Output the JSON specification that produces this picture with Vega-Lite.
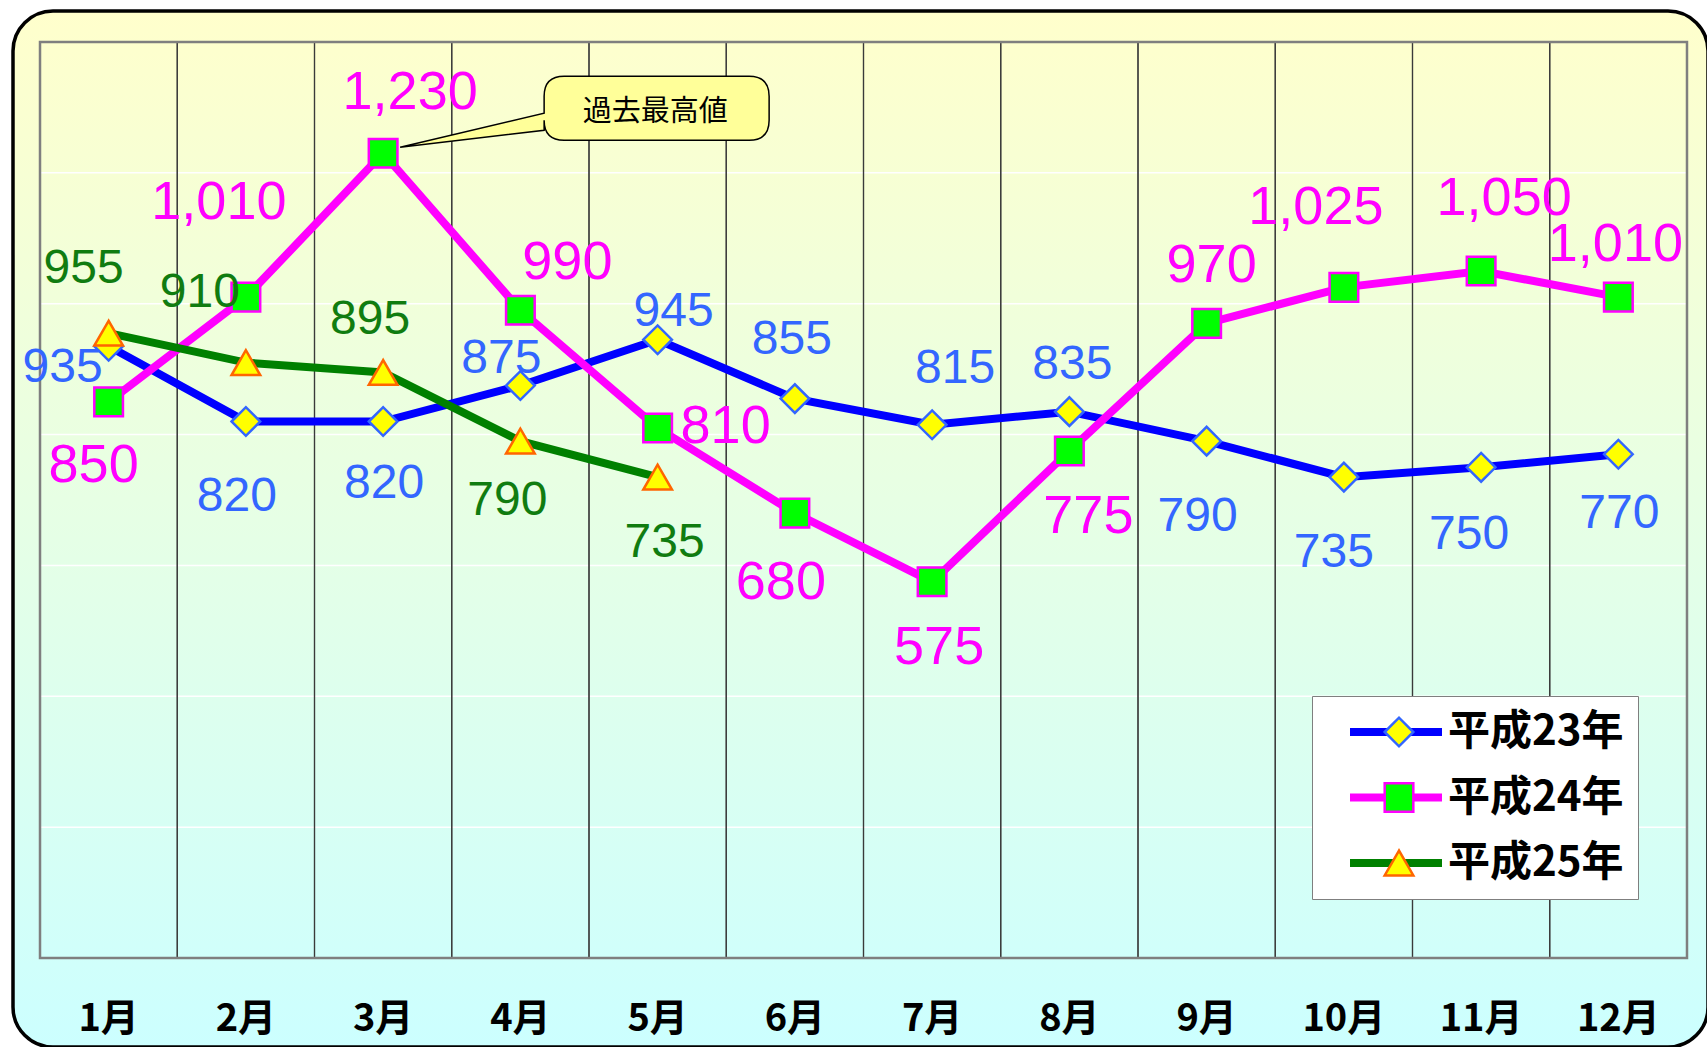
{
  "$schema": "https://vega.github.io/schema/vega-lite/v6.json",
  "width": 1695,
  "height": 1036,
  "autosize": "none",
  "padding": {"left": 13, "top": 11, "right": 0, "bottom": 0},
  "background": "#FFFFFF",
  "config": {"view": {"stroke": null}},
  "datasets": {
    "sales": [
      {"series": "平成23年", "month": "1月", "value": 935},
      {"series": "平成23年", "month": "2月", "value": 820},
      {"series": "平成23年", "month": "3月", "value": 820},
      {"series": "平成23年", "month": "4月", "value": 875},
      {"series": "平成23年", "month": "5月", "value": 945},
      {"series": "平成23年", "month": "6月", "value": 855},
      {"series": "平成23年", "month": "7月", "value": 815},
      {"series": "平成23年", "month": "8月", "value": 835},
      {"series": "平成23年", "month": "9月", "value": 790},
      {"series": "平成23年", "month": "10月", "value": 735},
      {"series": "平成23年", "month": "11月", "value": 750},
      {"series": "平成23年", "month": "12月", "value": 770},
      {"series": "平成24年", "month": "1月", "value": 850},
      {"series": "平成24年", "month": "2月", "value": 1010},
      {"series": "平成24年", "month": "3月", "value": 1230},
      {"series": "平成24年", "month": "4月", "value": 990},
      {"series": "平成24年", "month": "5月", "value": 810},
      {"series": "平成24年", "month": "6月", "value": 680},
      {"series": "平成24年", "month": "7月", "value": 575},
      {"series": "平成24年", "month": "8月", "value": 775},
      {"series": "平成24年", "month": "9月", "value": 970},
      {"series": "平成24年", "month": "10月", "value": 1025},
      {"series": "平成24年", "month": "11月", "value": 1050},
      {"series": "平成24年", "month": "12月", "value": 1010},
      {"series": "平成25年", "month": "1月", "value": 955},
      {"series": "平成25年", "month": "2月", "value": 910},
      {"series": "平成25年", "month": "3月", "value": 895},
      {"series": "平成25年", "month": "4月", "value": 790},
      {"series": "平成25年", "month": "5月", "value": 735}
    ]
  },
  "data": {"name": "sales"},
  "layer": [
    {
      "data": {"values": [{}]},
      "mark": {
        "type": "rect",
        "fill": {"gradient": "linear", "x1": 0, "y1": 0, "x2": 0, "y2": 1,
                 "stops": [{"offset": 0, "color": "#FFFFCC"}, {"offset": 1, "color": "#CCFFFF"}]},
        "stroke": "#000000", "strokeWidth": 3.5, "cornerRadius": 40
      },
      "encoding": {}
    },
    {
      "transform": [{"filter": "datum.series === '平成23年'"}],
      "mark": {"type": "rect", "filled": false, "stroke": "#FFFFFF", "strokeWidth": 1.5},
      "encoding": {
        "x": {"field": "month", "type": "ordinal", "scale": {"type": "band", "domain": ["1月","2月","3月","4月","5月","6月","7月","8月","9月","10月","11月","12月"], "paddingInner": 0, "paddingOuter": 0.1749, "align": 0.5625}, "axis": null},
        "y": {"datum": 200, "type": "quantitative", "scale": {"domain": [-136, 1447.4], "nice": false, "zero": false}, "axis": null},
        "y2": {"datum": 200}
      }
    },
    {
      "transform": [{"filter": "datum.series === '平成23年'"}],
      "mark": {"type": "rect", "filled": false, "stroke": "#FFFFFF", "strokeWidth": 1.5},
      "encoding": {
        "x": {"field": "month", "type": "ordinal", "axis": null},
        "y": {"datum": 400, "type": "quantitative", "axis": null},
        "y2": {"datum": 400}
      }
    },
    {
      "transform": [{"filter": "datum.series === '平成23年'"}],
      "mark": {"type": "rect", "filled": false, "stroke": "#FFFFFF", "strokeWidth": 1.5},
      "encoding": {
        "x": {"field": "month", "type": "ordinal", "axis": null},
        "y": {"datum": 600, "type": "quantitative", "axis": null},
        "y2": {"datum": 600}
      }
    },
    {
      "transform": [{"filter": "datum.series === '平成23年'"}],
      "mark": {"type": "rect", "filled": false, "stroke": "#FFFFFF", "strokeWidth": 1.5},
      "encoding": {
        "x": {"field": "month", "type": "ordinal", "axis": null},
        "y": {"datum": 800, "type": "quantitative", "axis": null},
        "y2": {"datum": 800}
      }
    },
    {
      "transform": [{"filter": "datum.series === '平成23年'"}],
      "mark": {"type": "rect", "filled": false, "stroke": "#FFFFFF", "strokeWidth": 1.5},
      "encoding": {
        "x": {"field": "month", "type": "ordinal", "axis": null},
        "y": {"datum": 1000, "type": "quantitative", "axis": null},
        "y2": {"datum": 1000}
      }
    },
    {
      "transform": [{"filter": "datum.series === '平成23年'"}],
      "mark": {"type": "rect", "filled": false, "stroke": "#FFFFFF", "strokeWidth": 1.5},
      "encoding": {
        "x": {"field": "month", "type": "ordinal", "axis": null},
        "y": {"datum": 1200, "type": "quantitative", "axis": null},
        "y2": {"datum": 1200}
      }
    },
    {
      "transform": [{"filter": "datum.series === '平成23年'"}],
      "mark": {"type": "rect", "filled": false, "stroke": "#3A3A3A", "strokeWidth": 1.2},
      "encoding": {
        "x": {"field": "month", "type": "ordinal", "axis": null},
        "y": {"datum": 0, "type": "quantitative", "axis": null},
        "y2": {"datum": 1400}
      }
    },
    {
      "data": {"values": [{}]},
      "mark": {"type": "rect", "filled": false, "stroke": "#7F7F7F", "strokeWidth": 2.5},
      "encoding": {
        "x": {"datum": "1月", "type": "ordinal", "bandPosition": 0, "axis": null},
        "x2": {"datum": "12月", "bandPosition": 1},
        "y": {"datum": 0, "type": "quantitative", "axis": null},
        "y2": {"datum": 1400}
      }
    },
    {
      "transform": [{"filter": "datum.series === '平成23年'"}],
      "mark": {"type": "text", "font": "Noto Sans CJK JP", "fontSize": 38, "fontWeight": "bold", "fill": "#000000", "baseline": "middle", "align": "center"},
      "encoding": {
        "x": {"field": "month", "type": "ordinal", "bandPosition": 0.5, "axis": null},
        "y": {"datum": -94, "type": "quantitative", "axis": null},
        "text": {"field": "month", "type": "nominal"}
      }
    },
    {
      "mark": {"type": "line", "strokeWidth": 8},
      "encoding": {
        "x": {"field": "month", "type": "ordinal", "bandPosition": 0.5, "axis": null},
        "y": {"field": "value", "type": "quantitative", "axis": null},
        "color": {
          "field": "series", "type": "nominal",
          "scale": {"range": ["#0000FF", "#FF00FF", "#008000"]},
          "legend": {
            "orient": "none", "legendX": 1299, "legendY": 685, "title": null,
            "padding": 14, "clipHeight": 44, "rowPadding": 21.5,
            "symbolType": "stroke", "symbolSize": 8464, "symbolStrokeWidth": 8, "symbolOffset": 20,
            "labelOffset": 2, "labelLimit": 400, "labelExpr": "datum.label + '       '",
            "labelFont": "Noto Sans CJK JP", "labelFontSize": 42, "labelFontWeight": "bold", "labelColor": "#000000",
            "fillColor": "#FFFFFF", "strokeColor": "#7F7F7F"
          }
        }
      }
    },
    {
      "transform": [{"filter": "datum.series === '平成24年' && datum.month === '3月'"}],
      "mark": {
        "type": "point", "filled": true, "opacity": 1, "size": 40000,
        "shape": "M0.17,-0.06L1.61,-0.40L1.61,-0.57Q1.61,-0.77 1.81,-0.77L3.66,-0.77Q3.86,-0.77 3.86,-0.57L3.86,-0.33Q3.86,-0.13 3.66,-0.13L1.81,-0.13Q1.61,-0.13 1.61,-0.33L1.61,-0.23Z",
        "fill": "#FFFF99", "stroke": "#000000", "strokeWidth": 1.5
      },
      "encoding": {
        "x": {"field": "month", "type": "ordinal", "bandPosition": 0.5, "axis": null},
        "y": {"field": "value", "type": "quantitative", "axis": null}
      }
    },
    {
      "mark": {"type": "point", "filled": true, "opacity": 1, "size": 820, "strokeWidth": 2.5},
      "encoding": {
        "x": {"field": "month", "type": "ordinal", "bandPosition": 0.5, "axis": null},
        "y": {"field": "value", "type": "quantitative", "axis": null},
        "shape": {
          "field": "series", "type": "nominal",
          "scale": {"domain": ["平成23年", "平成24年", "平成25年"], "range": ["diamond", "square", "triangle-up"]},
          "legend": {
            "orient": "none", "legendX": 1331, "legendY": 685, "title": null,
            "padding": 14, "clipHeight": 44, "rowPadding": 21.5, "symbolOffset": 20,
            "symbolSize": 820, "symbolStrokeWidth": 2.5, "symbolOpacity": 1,
            "labelExpr": "''", "labelFontSize": 42, "labelOffset": 11
          }
        },
        "fill": {"field": "series", "type": "nominal", "scale": {"domain": ["平成23年", "平成24年", "平成25年"], "range": ["#FFFF00", "#00FF00", "#FFFF00"]}},
        "stroke": {"field": "series", "type": "nominal", "scale": {"domain": ["平成23年", "平成24年", "平成25年"], "range": ["#3366FF", "#FF00FF", "#FF6600"]}}
      }
    },
    {
      "mark": {
        "type": "text", "font": "Liberation Sans", "baseline": "middle", "align": "center",
        "fontSize": {"expr": "datum.series === '平成24年' ? 54 : 48"},
        "fill": {"expr": "datum.series === '平成23年' ? '#3366FF' : datum.series === '平成24年' ? '#FF00FF' : '#107C10'"},
        "dx": {"expr": "[-46,-9,1,-19,16,-3,23,3,-9,-10,-12,1,-15,-27,27,47,68,-14,7,19,5,-28,23,-3,-25,-46,-13,-13,7][(datum.series === '平成23年' ? 0 : datum.series === '平成24年' ? 12 : 24) + indexof(['1月','2月','3月','4月','5月','6月','7月','8月','9月','10月','11月','12月'], datum.month)]"},
        "dy": {"expr": "[22,75,62,-27,-28,-59,-56,-47,76,76,68,60,64,-94,-60,-47,-1,70,66,66,-57,-79,-72,-52,-64,-70,-52,60,66][(datum.series === '平成23年' ? 0 : datum.series === '平成24年' ? 12 : 24) + indexof(['1月','2月','3月','4月','5月','6月','7月','8月','9月','10月','11月','12月'], datum.month)]"}
      },
      "encoding": {
        "x": {"field": "month", "type": "ordinal", "bandPosition": 0.5, "axis": null},
        "y": {"field": "value", "type": "quantitative", "axis": null},
        "text": {"field": "value", "type": "quantitative", "format": ","}
      }
    },
    {
      "transform": [{"filter": "datum.series === '平成24年' && datum.month === '3月'"}],
      "mark": {"type": "text", "text": "過去最高値", "dx": 272, "dy": -41, "font": "Noto Sans CJK JP", "fontSize": 29, "fill": "#000000", "baseline": "middle", "align": "center"},
      "encoding": {
        "x": {"field": "month", "type": "ordinal", "bandPosition": 0.5, "axis": null},
        "y": {"field": "value", "type": "quantitative", "axis": null}
      }
    }
  ]
}
